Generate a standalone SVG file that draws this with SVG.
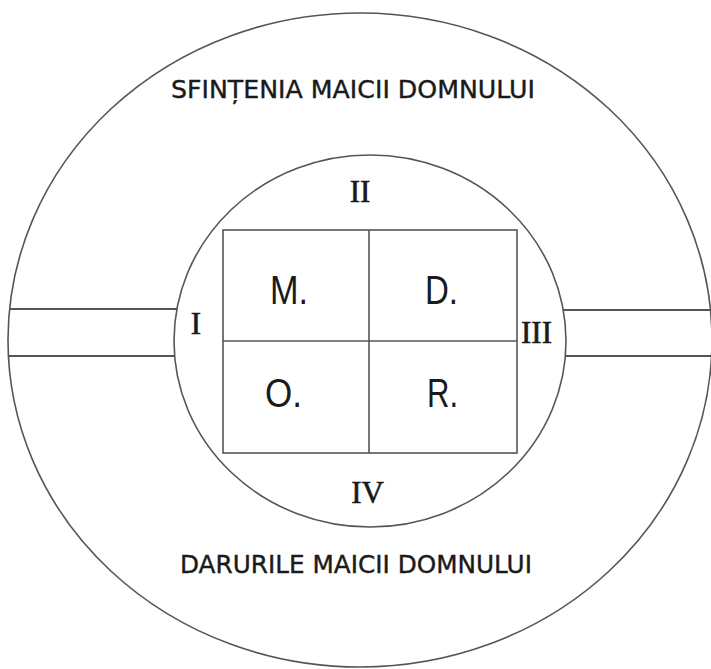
<svg xmlns="http://www.w3.org/2000/svg" width="711" height="669" viewBox="0 0 711 669">
<style>
.ln{fill:none;stroke:#555;stroke-width:1.6}
.bar{stroke:#555;stroke-width:2}
.big{font-family:"DejaVu Sans",Verdana,sans-serif;font-size:25px;fill:#1a1a1a;stroke:#1a1a1a;stroke-width:0.4}
.let{font-family:"Liberation Sans",Arial,sans-serif;font-size:40px;fill:#1a1a1a}
.rom{font-family:"Liberation Serif","Times New Roman",serif;font-size:31px;fill:#1a1a1a;stroke:#1a1a1a;stroke-width:0.6}
</style>
<rect width="711" height="669" fill="#fff"/>
<g id="outer">
<ellipse class="ln" cx="360" cy="340" rx="352" ry="327"/>
<text class="big" x="353" y="98" text-anchor="middle" textLength="364" lengthAdjust="spacingAndGlyphs">SFINȚENIA MAICII DOMNULUI</text>
<text class="big" x="356" y="573" text-anchor="middle" textLength="352" lengthAdjust="spacingAndGlyphs">DARURILE MAICII DOMNULUI</text>
</g>
<g id="connectors">
<line class="bar" x1="9" y1="309" x2="177" y2="309"/>
<line class="bar" x1="9" y1="356" x2="175" y2="356"/>
<line class="bar" x1="563" y1="310" x2="711" y2="310"/>
<line class="bar" x1="565" y1="356" x2="711" y2="356"/>
</g>
<g id="inner">
<ellipse class="ln" cx="370" cy="341" rx="196" ry="186"/>
<text class="rom" x="196" y="334" text-anchor="middle">I</text>
<text class="rom" x="360" y="202" text-anchor="middle">II</text>
<text class="rom" x="536.5" y="343" text-anchor="middle">III</text>
<text class="rom" x="367.5" y="503" text-anchor="middle">IV</text>
</g>
<g id="square">
<rect class="ln" x="223" y="230" width="294" height="223"/>
<line class="ln" x1="369" y1="230" x2="369" y2="453"/>
<line class="ln" x1="223" y1="341" x2="517" y2="341"/>
</g>
<g id="cell-M"><text class="let" x="289" y="304" text-anchor="middle" textLength="38" lengthAdjust="spacingAndGlyphs">M.</text></g>
<g id="cell-D"><text class="let" x="441.5" y="304" text-anchor="middle" textLength="33" lengthAdjust="spacingAndGlyphs">D.</text></g>
<g id="cell-O"><text class="let" x="283.5" y="407" text-anchor="middle" textLength="37" lengthAdjust="spacingAndGlyphs">O.</text></g>
<g id="cell-R"><text class="let" x="442.5" y="407" text-anchor="middle" textLength="31" lengthAdjust="spacingAndGlyphs">R.</text></g>
</svg>
